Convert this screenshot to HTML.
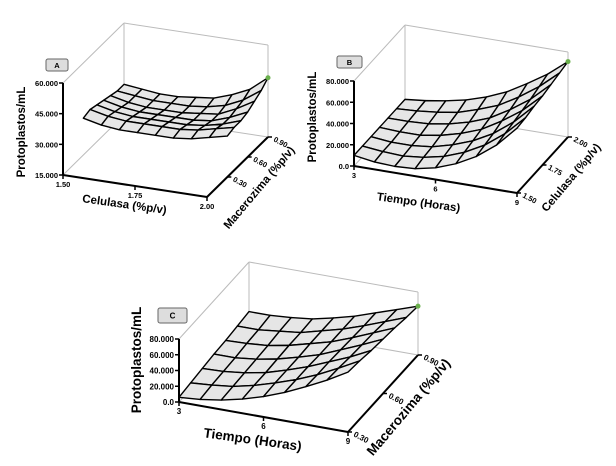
<!DOCTYPE html>
<html><head><meta charset="utf-8"><style>
html,body{margin:0;padding:0;background:#fff}
svg{display:block;font-family:"Liberation Sans",sans-serif}
</style></head><body>
<svg id="c" width="616" height="466" viewBox="0 0 616 466"></svg>
<script>
// ---- Panel A data: Celulasa (cols) x Macerozima (rows, front to back) -> Protoplastos/mL (thousands)
const aCelulasa=[1.50,1.5625,1.625,1.6875,1.75,1.8125,1.875,1.9375,2.00];
const aMacerozima=[0.30,0.40,0.50,0.60,0.70,0.80,0.90];
const aZ=[
[33,31,30,30,30,30,31,33,35],
[34,32,31,31,31,31,32,34,36],
[33,31,30,30,30,30,31,33,36],
[32,30,29,29,29,29,30,33,37],
[31,29,28,28,28,29,30,34,39],
[30,29,28,28,28,29,31,35,41],
[30,29,28,28,29,30,33,37,44]];
const aZTicks=["15.000","30.000","45.000","60.000"];
const aZTickVals=[15,30,45,60];
const aXTicks=[1.50,1.75,2.00];
const aDTicks=[0.30,0.60,0.90];
// ---- Panel B data: Tiempo (cols) x Celulasa (rows)
const bTiempo=[3,3.75,4.5,5.25,6,6.75,7.5,8.25,9];
const bCelulasa=[1.50,1.583,1.667,1.75,1.833,1.917,2.00];
const bZ=[
[10,7,6,7,11,18,28,42,61],
[10,8,7,9,13,20,30,44,62],
[10,8,8,10,15,22,32,46,64],
[10,9,9,12,17,24,35,48,65],
[10,10,11,14,19,26,37,50,67],
[10,11,13,16,22,29,40,53,69],
[10,12,15,19,25,33,44,56,71]];
const bZTicks=["0.0","20.000","40.000","60.000","80.000"];
const bZTickVals=[0,20,40,60,80];
const bXTicks=[3,6,9];
const bDTicks=[1.50,1.75,2.00];
// ---- Panel C data: Tiempo (cols) x Macerozima (rows)
const cTiempo=[3,3.75,4.5,5.25,6,6.75,7.5,8.25,9];
const cMacerozima=[0.30,0.40,0.50,0.60,0.70,0.80,0.90];
const cZ=[
[6,8,12,18,26,36,48,61,76],
[8,10,13,19,27,36,47,60,74],
[10,11,14,19,27,36,47,58,71],
[12,12,15,20,27,35,46,57,69],
[13,14,16,21,28,35,45,56,67],
[15,15,18,21,28,35,44,54,64],
[17,17,19,22,28,35,44,53,62]];
const cZTicks=["0.0","20.000","40.000","60.000","80.000"];
const cZTickVals=[0,20,40,60,80];
const cXTicks=[3,6,9];
const cDTicks=[0.30,0.60,0.90];

const NS="http://www.w3.org/2000/svg";
const svg=document.getElementById('c');
function mk(tag,attrs,parent,txt){const e=document.createElementNS(NS,tag);for(const k in attrs)e.setAttribute(k,attrs[k]);if(txt!==undefined)e.textContent=txt;(parent||svg).appendChild(e);return e;}

function panel(p){
  const g=mk('g',{});
  
  
  const P=(x,d,z)=>{const u=(x-p.xd[0])/(p.xd[1]-p.xd[0]),v=(d-p.dd[0])/(p.dd[1]-p.dd[0]),w=(z-p.zd[0])/(p.zd[1]-p.zd[0]);
    return [p.O[0]+u*p.X[0]+v*p.D[0], p.O[1]+u*p.X[1]+v*p.D[1]-w*p.H];};
  const [x0,x1]=p.xd,[d0,d1]=p.dd,[z0,z1]=p.zd;
  const line=(a,b,st,sw,name)=>{const l=mk('line',{x1:a[0],y1:a[1],x2:b[0],y2:b[1],stroke:st,'stroke-width':sw},g);return l;};
  line(P(x0,d0,z1),P(x0,d1,z1),'#bbb',1,'box-edge');
  line(P(x0,d1,z1),P(x1,d1,z1),'#bbb',1,'box-edge');
  line(P(x0,d1,z0),P(x0,d1,z1),'#bbb',1,'box-edge');
  line(P(x1,d1,z0),P(x1,d1,z1),'#bbb',1,'box-edge');
  line(P(x0,d0,z0),P(x0,d1,z0),'#bbb',1,'box-edge');
  line(P(x0,d1,z0),P(x1,d1,z0),'#bbb',1,'box-edge');
  const xs=p.xs,ds=p.ds,Z=p.Z;
  for(let r=ds.length-2;r>=0;r--){
    for(let c=0;c<xs.length-1;c++){
      const pts=[P(xs[c],ds[r],Z[r][c]),P(xs[c+1],ds[r],Z[r][c+1]),P(xs[c+1],ds[r+1],Z[r+1][c+1]),P(xs[c],ds[r+1],Z[r+1][c])];
      const q=mk('polygon',{points:pts.map(a=>a.join(',')).join(' '),fill:'#e6e6e6',stroke:'#000','stroke-width':1.4,'stroke-linejoin':'round'},g);
      
      
    }
  }
  const top=P(xs[xs.length-1],ds[ds.length-1],Z[ds.length-1][xs.length-1]);
  const dot=mk('circle',{cx:top[0],cy:top[1],r:2.5,fill:'#6ab04c'},g);
  
  
  line(P(x0,d0,z0),P(x0,d0,z1),'#000',2,'z-axis');
  line(P(x0,d0,z0),P(x1,d0,z0),'#000',2,'x-axis');
  line(P(x1,d0,z0),P(x1,d1,z0),'#000',2,'depth-axis');
  p.zt.forEach((v,i)=>{const a=P(x0,d0,v);line(a,[a[0]-4,a[1]],'#000',1.5,'z-tick');
    const t=mk('text',{x:a[0]-5,y:a[1]+3,'font-size':p.fs,'font-weight':'bold','text-anchor':'end'},g,p.ztl[i]);});
  p.xt.forEach(v=>{const a=P(v,d0,z0);line(a,[a[0],a[1]+4],'#000',1.5,'x-tick');
    const t=mk('text',{x:a[0],y:a[1]+12,'font-size':p.fs,'font-weight':'bold','text-anchor':'middle'},g,p.xfmt(v));});
  p.dt.forEach(v=>{const a=P(x1,v,z0);line(a,[a[0]+4,a[1]],'#000',1.5,'depth-tick');
    const t=mk('text',{x:a[0]+5,y:a[1]+4,'font-size':p.fs,'font-weight':'bold',transform:`rotate(28 ${a[0]+5} ${a[1]+4})`},g,v.toFixed(2));});
  const T=(txt,x,y,rot,fs,name)=>{const t=mk('text',{x:x,y:y,'font-size':fs,'font-weight':'bold','text-anchor':'middle',transform:`rotate(${rot} ${x} ${y})`},g,txt);};
  T('Protoplastos/mL',p.yt[0],p.yt[1],-90,p.tfs,'y-axis-title');
  T(p.xTitle,p.xtp[0],p.xtp[1],8,p.tfs,'x-axis-title');
  T(p.dTitle,p.dtp[0],p.dtp[1],-50,p.tfs,'depth-axis-title');
  const b=mk('rect',{x:p.lab[0],y:p.lab[1],width:p.lab[2],height:p.lab[3],rx:2,fill:'#ddd',stroke:'#666','stroke-width':1},g);
  
  const lt=mk('text',{x:p.lab[0]+p.lab[2]/2,y:p.lab[1]+p.lab[3]/2+3,'font-size':p.fs,'font-weight':'bold','text-anchor':'middle'},g,p.id);
  
}
panel({id:'A',O:[63,175],X:[144,22],D:[61,-60],H:92,xd:[1.5,2.0],dd:[0.0,0.9],zd:[15,60],
  xs:aCelulasa,ds:aMacerozima,Z:aZ,zt:aZTickVals,ztl:aZTicks,xt:aXTicks,dt:aDTicks,xfmt:v=>v.toFixed(2),
  fs:7.5,tfs:11.5,yt:[25,132],xTitle:'Celulasa (%p/v)',xtp:[124,208],dTitle:'Macerozima (%p/v)',dtp:[262,190],lab:[46,59,22,12]});
panel({id:'B',O:[354,166],X:[163,27],D:[51,-56],H:85,xd:[3,9],dd:[1.5,2.0],zd:[0,80],
  xs:bTiempo,ds:bCelulasa,Z:bZ,zt:bZTickVals,ztl:bZTicks,xt:bXTicks,dt:bDTicks,xfmt:v=>String(v),
  fs:7.5,tfs:11.5,yt:[316,117],xTitle:'Tiempo (Horas)',xtp:[418,206],dTitle:'Celulasa (%p/v)',dtp:[574,180],lab:[337,56,25,12]});
panel({id:'C',O:[179,402],X:[169,30],D:[70,-77],H:63,xd:[3,9],dd:[0.3,0.9],zd:[0,80],
  xs:cTiempo,ds:cMacerozima,Z:cZ,zt:cZTickVals,ztl:cZTicks,xt:cXTicks,dt:cDTicks,xfmt:v=>String(v),
  fs:8,tfs:13.5,yt:[141,360],xTitle:'Tiempo (Horas)',xtp:[252,444],dTitle:'Macerozima (%p/v)',dtp:[412,410],lab:[158,308,29,15]});
</script>
</body></html>
